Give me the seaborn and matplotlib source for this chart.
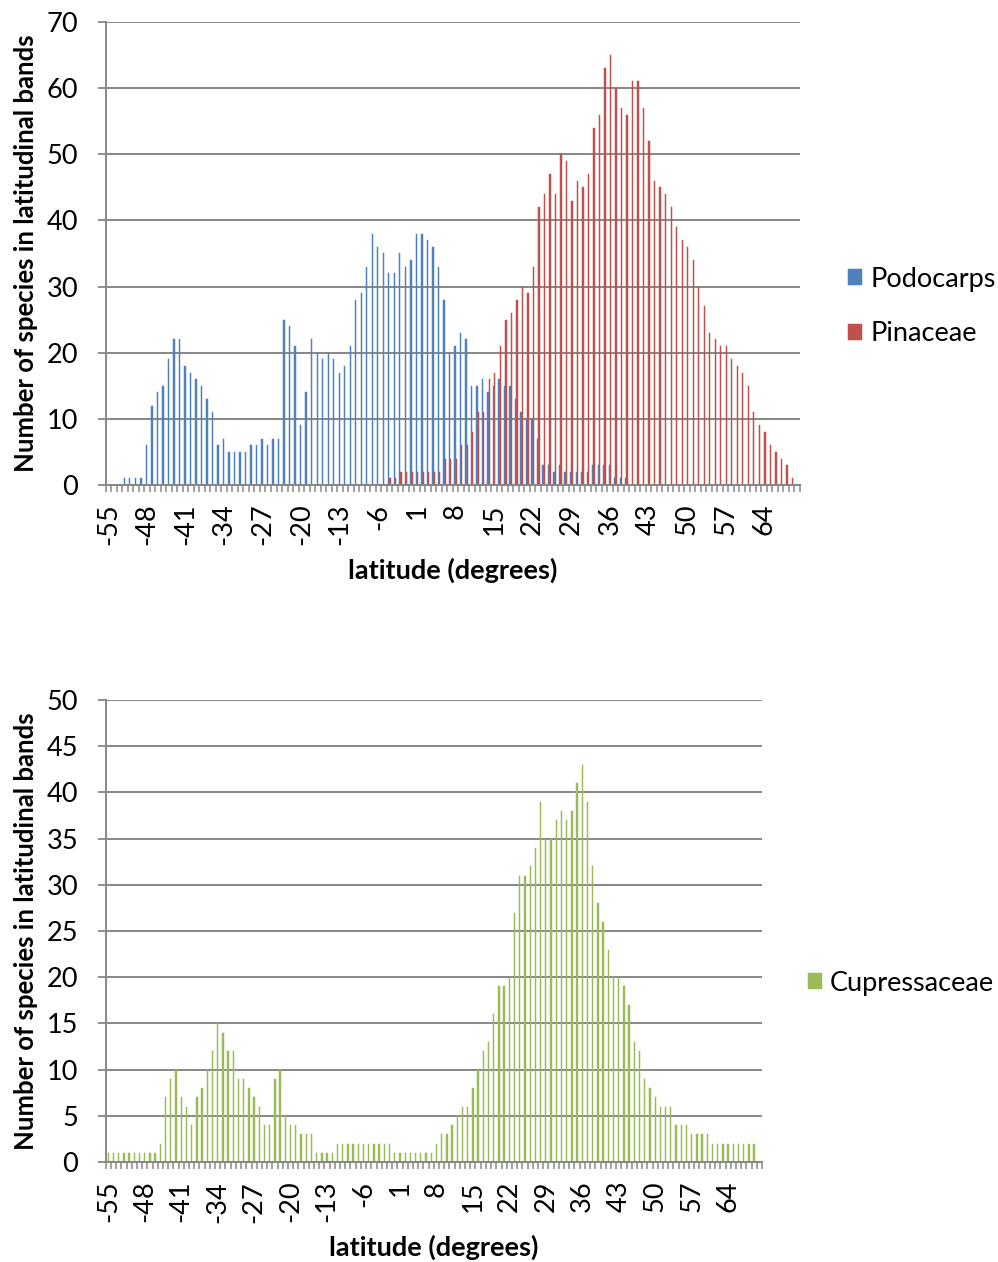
import numpy as np
import pandas as pd
import matplotlib
matplotlib.use("Agg")
import matplotlib.pyplot as plt
import seaborn as sns

# =========================================
# DATA (one value per 1-degree latitude band)
# =========================================

latitude = list(range(-55, 71))

podocarps = [
    0, 0, 0, 1, 1, 1, 1, 6, 12, 14,
    15, 19, 22, 22, 18, 17, 16, 15, 13, 11,
    6, 7, 5, 5, 5, 5, 6, 6, 7, 6,
    7, 7, 25, 24, 21, 9, 14, 22, 20, 19,
    20, 19, 17, 18, 21, 28, 29, 33, 38, 36,
    35, 32, 32, 35, 33, 34, 38, 38, 37, 36,
    33, 28, 20, 21, 23, 22, 15, 15, 16, 14,
    15, 16, 15, 15, 13, 11, 10, 10, 7, 3,
    3, 2, 3, 2, 2, 2, 2, 2, 3, 3,
    3, 3, 1, 1, 1, 0, 0, 0, 0, 0,
    0, 0, 0, 0, 0, 0, 0, 0, 0, 0,
    0, 0, 0, 0, 0, 0, 0, 0, 0, 0,
    0, 0, 0, 0, 0, 0,
]

pinaceae = [
    0, 0, 0, 0, 0, 0, 0, 0, 0, 0,
    0, 0, 0, 0, 0, 0, 0, 0, 0, 0,
    0, 0, 0, 0, 0, 0, 0, 0, 0, 0,
    0, 0, 0, 0, 0, 0, 0, 0, 0, 0,
    0, 0, 0, 0, 0, 0, 0, 0, 0, 0,
    0, 1, 1, 2, 2, 2, 2, 2, 2, 2,
    2, 4, 4, 4, 6, 6, 8, 11, 11, 16,
    17, 21, 25, 26, 28, 30, 29, 33, 42, 44,
    47, 44, 50, 49, 43, 46, 45, 47, 54, 56,
    63, 65, 60, 57, 56, 61, 61, 57, 52, 46,
    45, 44, 42, 39, 37, 36, 34, 30, 27, 23,
    22, 21, 21, 19, 18, 17, 15, 11, 9, 8,
    6, 5, 4, 3, 1, 0,
]

cupressaceae = [
    1, 1, 1, 1, 1, 1, 1, 1, 1, 1,
    2, 7, 9, 10, 7, 6, 4, 7, 8, 10,
    12, 15, 14, 12, 12, 9, 9, 8, 7, 6,
    4, 4, 9, 10, 5, 4, 4, 3, 3, 3,
    1, 1, 1, 1, 2, 2, 2, 2, 2, 2,
    2, 2, 2, 2, 2, 1, 1, 1, 1, 1,
    1, 1, 1, 2, 3, 3, 4, 5, 6, 6,
    8, 10, 12, 13, 16, 19, 19, 20, 27, 31,
    31, 32, 34, 39, 35, 35, 37, 38, 37, 38,
    41, 43, 39, 32, 28, 26, 23, 20, 20, 19,
    17, 13, 12, 9, 8, 7, 6, 6, 6, 4,
    4, 4, 3, 3, 3, 3, 2, 2, 2, 2,
    2, 2, 2, 2, 2, 0,
]

top_groups = ["Podocarps", "Pinaceae"]
bottom_groups = ["Cupressaceae"]

# =========================================
# SETTINGS
# =========================================

sns.set_theme(style="white")
plt.rcParams["font.family"] = ["Lato", "DejaVu Sans"]
plt.rcParams["text.color"] = "black"
plt.rcParams["axes.labelcolor"] = "black"

BLUE = "#4F81BD"
RED = "#C0504D"
GREEN = "#9BBB59"
GRID = "#878787"

n = len(latitude)

fig = plt.figure(figsize=(9.98, 12.62), dpi=100)
ax1 = fig.add_axes([0.1059, 0.6157, 0.6957, 0.3669])
ax2 = fig.add_axes([0.1059, 0.0792, 0.6576, 0.3661])


def style_axes(ax, ymax, ystep):
    ax.set_xlim(-0.5, n - 0.5)
    ax.set_ylim(0, ymax)
    ax.set_yticks(np.arange(0, ymax + 1, ystep))
    ax.yaxis.grid(True, color=GRID, lw=1.4)
    ax.xaxis.grid(False)
    ax.set_axisbelow(True)

    major = np.arange(0, n, 7)
    ax.set_xticks(major)
    ax.set_xticklabels([str(latitude[i]) for i in major], rotation=90)
    ax.set_xticks(np.arange(-0.5, n, 1), minor=True)
    ax.tick_params(axis="x", which="major", length=0, pad=13.5,
                   labelsize=19.5, labelcolor="black")
    ax.tick_params(axis="x", which="minor", bottom=True, length=5,
                   width=1.1, color=GRID)
    ax.tick_params(axis="y", left=True, length=6, width=1.3, color=GRID,
                   pad=14, labelsize=19.5, labelcolor="black")

    for s in ["top", "right"]:
        ax.spines[s].set_visible(False)
    for s in ["left", "bottom"]:
        ax.spines[s].set_color(GRID)
        ax.spines[s].set_linewidth(1.4)

    ax.set_ylabel("Number of species in latitudinal bands", fontsize=18.5,
                  fontweight="bold", labelpad=6)
    ax.set_xlabel("latitude (degrees)", fontsize=19.5, fontweight="bold",
                  labelpad=9)

    # thin Excel-like bars: give each bar an outline in its own colour
    for p in ax.patches:
        p.set_edgecolor(p.get_facecolor())
        p.set_linewidth(0.35)


def place_legend(ax, x, y):
    handles, labels = ax.get_legend_handles_labels()
    ax.legend(handles, labels, loc="center left", bbox_to_anchor=(x, y),
              bbox_transform=fig.transFigure, frameon=False, fontsize=19.5,
              handlelength=0.52, handleheight=0.52, handletextpad=0.3,
              labelspacing=1.1, borderpad=0, borderaxespad=0)


# =========================================
# TOP: PODOCARPS vs PINACEAE
# =========================================

top = pd.DataFrame({
    "latitude": latitude * 2,
    "count": podocarps + pinaceae,
    "group": [top_groups[0]] * n + [top_groups[1]] * n,
})

sns.barplot(data=top, x="latitude", y="count", hue="group",
            order=latitude, hue_order=top_groups, palette=[BLUE, RED],
            width=0.48, saturation=1, errorbar=None, linewidth=0, ax=ax1)
style_axes(ax1, 70, 10)
place_legend(ax1, 848 / 998, 1 - 306.5 / 1262)

# =========================================
# BOTTOM: CUPRESSACEAE
# =========================================

bottom = pd.DataFrame({
    "latitude": latitude,
    "count": cupressaceae,
    "group": bottom_groups * n,
})

sns.barplot(data=bottom, x="latitude", y="count", hue="group",
            order=latitude, hue_order=bottom_groups, palette=[GREEN],
            width=0.26, saturation=1, errorbar=None, linewidth=0, ax=ax2)
style_axes(ax2, 50, 5)
place_legend(ax2, 808 / 998, 1 - 983 / 1262)

fig.savefig("out.png", dpi=100)
